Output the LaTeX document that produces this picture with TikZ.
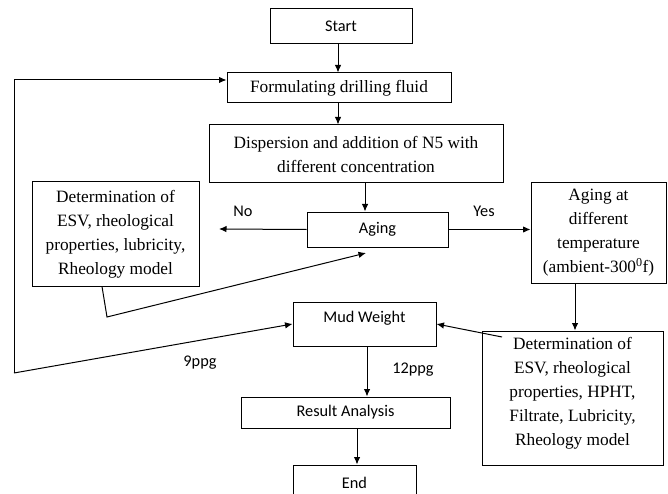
\documentclass[tikz,border=0pt]{standalone}
\usepackage{fontspec}
\setmainfont{Liberation Serif}
\newfontfamily\calib{Carlito}
\usetikzlibrary{arrows.meta}
\begin{document}
\begin{tikzpicture}[x=1pt,y=-1pt,
  box/.style={draw, line width=1pt, inner sep=0pt, align=center},
  serif/.style={font=\rmfamily\fontsize{17.3}{24}\selectfont},
  sans/.style={font=\calib\fontsize{16.3}{19}\selectfont},
  arr/.style={line width=1pt, -{Latex[length=7.5pt,width=6.5pt]}}]
\useasboundingbox (0,0) rectangle (668,494);
\node[box,sans,minimum width=142pt,minimum height=35pt] (start) at (341,26.5) {Start};
\node[box,serif,minimum width=224pt,minimum height=30pt] (form) at (339,88) {Formulating drilling fluid};
\node[box,serif,minimum width=294pt,minimum height=58pt] (disp) at (356,154) {Dispersion and addition of N5 with\\different concentration};
\node[box,sans,minimum width=141pt,minimum height=35pt] (aging) at (377.5,229.5) {Aging};
\node[box,serif,minimum width=167pt,minimum height=104pt] (left) at (115.5,234) {Determination of\\ESV, rheological\\properties, lubricity,\\Rheology model};
\node[box,serif,minimum width=135pt,minimum height=100pt] (right) at (598.5,233) {Aging at\\different\\temperature\\(ambient-300\textsuperscript{0}f)};
\node[box,serif,minimum width=181pt,minimum height=134pt] (lower) at (572.5,398) {};
\node[serif,align=center] (lowert) at (572.5,393) {Determination of\\ESV, rheological\\properties, HPHT,\\Filtrate, Lubricity,\\Rheology model};
\node[box,minimum width=143pt,minimum height=44pt] (mw) at (364.5,324) {};
\node[sans] (mwt) at (364.5,318) {Mud Weight};
\node[box,sans,minimum width=209pt,minimum height=31pt] (res) at (345.5,412.5) {Result Analysis};
\node[box,sans,minimum width=123pt,minimum height=36pt] (end) at (354.5,483) {End};

\coordinate (ca) at (338,0);
\coordinate (cb) at (365,0);
\coordinate (cc) at (575,0);
\coordinate (cd) at (367,0);
\coordinate (ce) at (357,0);
\coordinate (cf) at (102,0);
\coordinate (noend) at (219,229);
\coordinate (lk) at (107,317);
\coordinate (ltip) at (366,253);
\coordinate (ls) at (502,337);
\coordinate (fb1) at (14,373);
\coordinate (fb2) at (14,80);

\draw[arr] (start.south -| ca) -- (form.north -| ca);
\draw[arr] (form.south -| ca) -- (disp.north -| ca);
\draw[arr] (disp.south -| cb) -- (aging.north -| cb);
\draw[arr] (aging.west) -- (noend);
\draw[arr] (aging.east) -- (right.west |- aging.east);
\node[sans] (no) at (243,211) {No};
\node[sans] (yes) at (484,211) {Yes};
\draw[arr] (left.south -| cf) -- (lk) -- (ltip);
\draw[arr] (right.south -| cc) -- (lower.north -| cc);
\draw[arr] (ls) -- (mw.east);
\draw[arr] (fb1) -- (mw.west);
\draw[arr] (fb1) -- (fb2) -- (form.west |- fb2);
\node[sans] (p9) at (200,363) {9ppg};
\node[sans] (p12) at (413,370) {12ppg};
\draw[arr] (mw.south -| cd) -- (res.north -| cd);
\draw[arr] (res.south -| ce) -- (end.north -| ce);
\end{tikzpicture}
\end{document}
